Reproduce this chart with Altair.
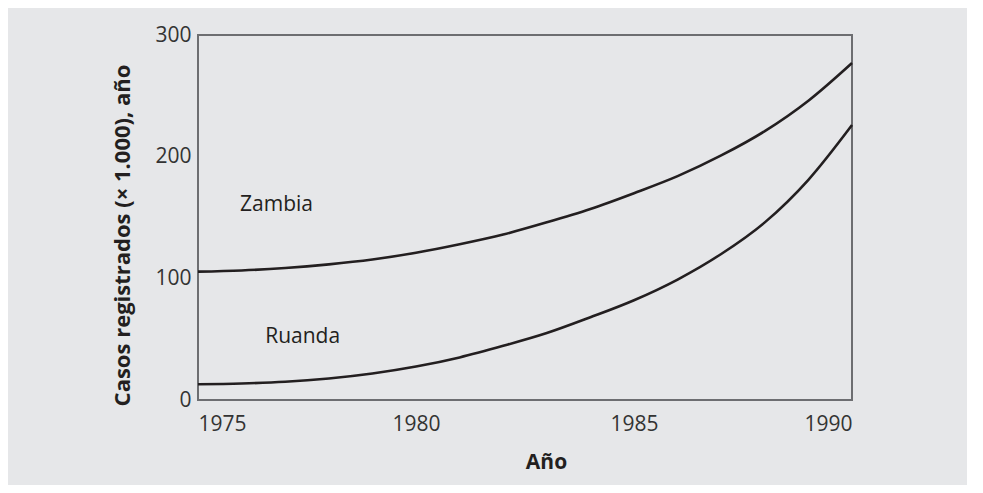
import altair as alt
import pandas as pd

years = list(range(1975, 1991))
zambia = [105.5, 106.5, 108.5, 111.5, 115.5, 121, 128, 136, 146, 157, 170, 184, 201, 221, 246, 277]
ruanda = [13, 13.6, 15, 17.7, 21.8, 27.5, 35, 44.5, 55, 68, 82, 99, 120, 146, 181, 226]

label_names = ["Zambia", "Ruanda"]
label_x = [1976.8, 1977.4]
label_y = [160, 52]

x_ticks = [1975, 1980, 1985, 1990]
y_ticks = [0, 100, 200, 300]

df = pd.DataFrame({
    "year": years * 2,
    "value": zambia + ruanda,
    "country": ["Zambia"] * len(years) + ["Ruanda"] * len(years),
})
lab = pd.DataFrame({"year": label_x, "value": label_y, "name": label_names})

FONT = "Open Sans"
INK = "#231f20"

x = alt.X("year:Q", scale=alt.Scale(domain=[1975, 1990], nice=False, zero=False),
          axis=alt.Axis(values=x_ticks, format="d", title="Año", grid=False, ticks=False,
                        domain=False, labelFontSize=21, labelPadding=13, labelFont=FONT,
                        labelColor="#333333", titleFont=FONT, titleFontSize=21,
                        titleFontWeight="bold", titleColor=INK, titlePadding=17,
                        titleX=348, titleAlign="center"))
y = alt.Y("value:Q", scale=alt.Scale(domain=[0, 300], nice=False),
          axis=alt.Axis(values=y_ticks, title="Casos registrados (× 1.000), año", grid=False,
                        ticks=False, domain=False, labelFontSize=21, labelPadding=7,
                        labelFont=FONT, labelColor="#333333", titleFont=FONT,
                        titleFontSize=22, titleFontWeight="bold", titleColor=INK,
                        titlePadding=20, titleY=200, titleAlign="center"))

lines = alt.Chart(df).mark_line(color=INK, strokeWidth=2.6, interpolate="monotone").encode(
    x=x, y=y, detail="country:N")

texts = alt.Chart(lab).mark_text(font=FONT, fontSize=21, color=INK, align="center",
                                 baseline="middle").encode(
    x=alt.X("year:Q"), y=alt.Y("value:Q"), text="name:N")

chart = (lines + texts).properties(
    width=654, height=365, background="#e6e7e9",
    padding={"left": 190, "top": 27, "right": 115, "bottom": 85},
    autosize=alt.AutoSizeParams(type="none"),
).configure_view(stroke="#6d6e71", strokeWidth=2, fill="#e6e7e9")

chart.save("out.html", embed_options={"renderer": "svg", "actions": False})
